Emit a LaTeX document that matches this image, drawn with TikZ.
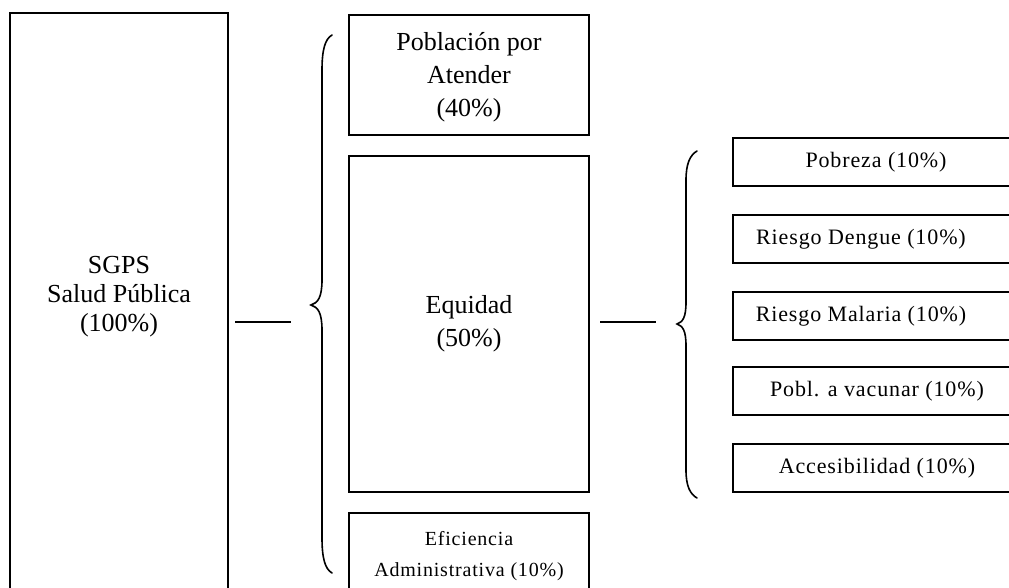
\documentclass[tikz,border=0pt]{standalone}
\usepackage{fontspec}
\setmainfont{Liberation Serif}
\newfontfamily\spacedfont[LetterSpace=4]{Liberation Serif}
\begin{document}
\begin{tikzpicture}[x=1pt,y=-1pt,
  box/.style={draw,line width=1.6pt,rectangle,inner sep=0pt},
  bigtxt/.style={align=center,inner sep=0pt,font=\fontsize{26}{29}\selectfont},
  midtxt/.style={align=center,inner sep=0pt,font=\fontsize{26}{33}\selectfont},
  smalltxt/.style={align=center,inner sep=0pt,font=\spacedfont\fontsize{22}{26}\selectfont},
  efitxt/.style={align=center,inner sep=0pt,font=\spacedfont\fontsize{20}{31}\selectfont},
  brace/.style={line width=1.6pt,line cap=round},
  conn/.style={line width=1.6pt}]
\clip (0,0) rectangle (1009,588);
\fill[white] (0,0) rectangle (1009,588);
% left box
\node[box,minimum width=218pt,minimum height=600pt] (sgps) at (119,313) {};
\node[bigtxt] (sgpst) at (119,297) {SGPS\\Salud Pública\\(100\%)};
% middle boxes
\node[box,minimum width=240pt,minimum height=120pt] (pob) at (469,75) {};
\node[midtxt] (pobt) at (469,77) {Población por\\Atender\\(40\%)};
\node[box,minimum width=240pt,minimum height=336pt] (equ) at (469,324) {};
\node[midtxt] (equt) at (469,324) {Equidad\\(50\%)};
\node[box,minimum width=240pt,minimum height=100pt] (efi) at (469,563) {};
\node[efitxt] (efit) at (469,556) {Eficiencia\\Administrativa (10\%)};
% right boxes
\node[box,minimum width=300pt,minimum height=48pt] (r1) at (883,162) {};
\node[smalltxt] (r1t) at (876,162) {Pobreza (10\%)};
\node[box,minimum width=300pt,minimum height=48pt] (r2) at (883,239) {};
\node[smalltxt] (r2t) at (861,239) {Riesgo Dengue (10\%)};
\node[box,minimum width=300pt,minimum height=48pt] (r3) at (883,316) {};
\node[smalltxt] (r3t) at (861,316) {Riesgo Malaria (10\%)};
\node[box,minimum width=300pt,minimum height=48pt] (r4) at (883,391) {};
\node[smalltxt] (r4t) at (877,391) {Pobl. a vacunar (10\%)};
\node[box,minimum width=300pt,minimum height=48pt] (r5) at (883,468) {};
\node[smalltxt] (r5t) at (877,468) {Accesibilidad (10\%)};
% connectors
\coordinate (l1a) at (235,322);
\coordinate (l1b) at (291,322);
\coordinate (l2a) at (600,322);
\coordinate (l2b) at (656,322);
\draw[conn] (l1a) -- (l1b);
\draw[conn] (l2a) -- (l2b);
% braces
\draw[brace] (332,35) .. controls (325,39) and (322,50) .. (322,70) -- (322,280)
  .. controls (322,297) and (318,303) .. (311,305)
  .. controls (318,307) and (322,313) .. (322,330) -- (322,538)
  .. controls (322,558) and (325,569) .. (332,573);
\draw[brace] (697,151) .. controls (690,155) and (686,164) .. (686,180) -- (686,302)
  .. controls (686,317) and (683,322) .. (677,324)
  .. controls (683,326) and (686,331) .. (686,346) -- (686,470)
  .. controls (686,486) and (690,494) .. (697,498);
\end{tikzpicture}
\end{document}
